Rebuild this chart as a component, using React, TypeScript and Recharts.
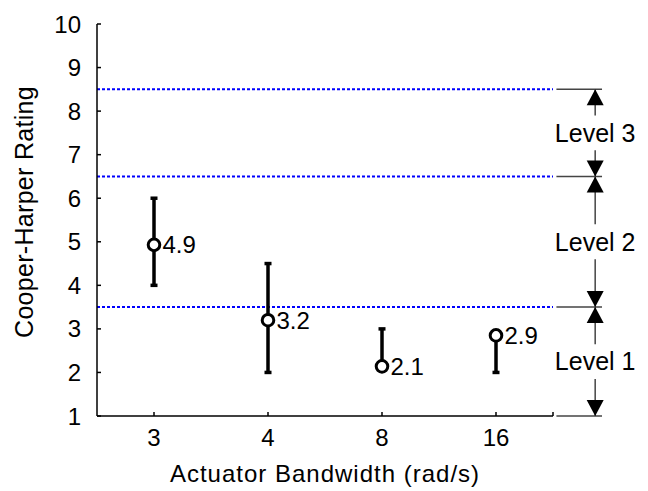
import React from "react";
import {
  ScatterChart, Scatter, XAxis, YAxis, ErrorBar, LabelList,
  ReferenceLine, ReferenceDot
} from "recharts";

// bandwidth categories (rad/s) and Cooper-Harper ratings
const categories = ["3", "4", "8", "16"];
const means = [4.93, 3.2, 2.14, 2.85];
const lows = [4, 2, 2.14, 2];
const highs = [6, 4.5, 3, 2.85];
const valueLabels = ["4.9", "3.2", "2.1", "2.9"];

const yTicks = [1, 2, 3, 4, 5, 6, 7, 8, 9, 10];

// handling quality level boundaries (top to bottom) and their names
const levelBounds = [8.5, 6.5, 3.5, 1];
const levelNames = ["Level 3", "Level 2", "Level 1"];

const FONT = "Liberation Sans, Arial, Helvetica, sans-serif";

// annotation column sits to the right of the plot, in x-axis units
const ANN_X = 4.37;
const ANN_START = 4.03;
const ANN_END = 4.43;
const TEXT_GAP = 0.4;

const rows = categories.map((c, i) => ({
  x: i + 0.5,
  y: means[i],
  err: [means[i] - lows[i], highs[i] - means[i]],
  label: valueLabels[i],
}));

const xTicks = categories.map((_, i) => i + 0.5).concat(categories.length);

const Marker = (props: any) => (
  <circle cx={props.cx} cy={props.cy} r={5.8} fill="#fff" stroke="#000" strokeWidth={3} />
);

const arrowShape = (dir: "up" | "down") => (props: any) => {
  const { cx, cy } = props;
  const h = dir === "up" ? 16 : -16;
  return (
    <polygon
      points={`${cx},${cy} ${cx - 8.5},${cy + h} ${cx + 8.5},${cy + h}`}
      fill="#000"
      stroke="none"
    />
  );
};

const textShape = (txt: string) => (props: any) => (
  <text
    x={props.cx}
    y={props.cy}
    dy="0.35em"
    textAnchor="middle"
    fontSize={25}
    fontFamily={FONT}
    fill="#000"
  >
    {txt}
  </text>
);

export default function App() {
  return (
    <div style={{ position: "absolute", left: 0, top: 0, width: 648, height: 491, background: "#fff" }}>
      <ScatterChart width={648} height={491} margin={{ top: 24, right: 95, bottom: 30, left: 17 }}>
        <XAxis
          type="number"
          dataKey="x"
          domain={[0, categories.length]}
          ticks={xTicks}
          interval={0}
          tickFormatter={(v: number) => (v < categories.length ? categories[Math.floor(v)] : "")}
          height={45}
          tickSize={-4}
          tickMargin={17}
          axisLine={{ stroke: "#000", strokeWidth: 1.5 }}
          tickLine={{ stroke: "#000", strokeWidth: 1.5 }}
          tick={{ fill: "#000", fontSize: 24, fontFamily: FONT }}
          label={{
            value: "Actuator Bandwidth (rad/s)",
            position: "bottom",
            offset: 4,
            fill: "#000",
            fontSize: 24,
            fontFamily: FONT,
            letterSpacing: 1,
          }}
        />
        <YAxis
          type="number"
          dataKey="y"
          domain={[1, 10]}
          ticks={yTicks}
          interval={0}
          width={80}
          tickSize={-4}
          tickMargin={20}
          axisLine={{ stroke: "#000", strokeWidth: 1.5 }}
          tickLine={{ stroke: "#000", strokeWidth: 1.5 }}
          tick={{ fill: "#000", fontSize: 24, fontFamily: FONT }}
          label={{
            value: "Cooper-Harper Rating",
            angle: -90,
            position: "center",
            dx: -33,
            dy: -8,
            fill: "#000",
            fontSize: 25,
            fontFamily: FONT,
            letterSpacing: 0.3,
          }}
        />

        {levelBounds.slice(0, 3).map((b) => (
          <ReferenceLine key={`blue-${b}`} y={b} stroke="#0000ff" strokeWidth={2} strokeDasharray="3 2" />
        ))}

        {levelBounds.map((b) => (
          <ReferenceLine
            key={`grey-${b}`}
            segment={[{ x: ANN_START, y: b }, { x: ANN_END, y: b }]}
            stroke="#444"
            strokeWidth={1.5}
            ifOverflow="visible"
          />
        ))}

        {levelNames.map((name, i) => {
          const top = levelBounds[i];
          const bottom = levelBounds[i + 1];
          const mid = (top + bottom) / 2;
          return (
            <React.Fragment key={name}>
              <ReferenceLine
                segment={[{ x: ANN_X, y: top }, { x: ANN_X, y: mid + TEXT_GAP }]}
                stroke="#444"
                strokeWidth={1.5}
                ifOverflow="visible"
              />
              <ReferenceLine
                segment={[{ x: ANN_X, y: mid - TEXT_GAP }, { x: ANN_X, y: bottom }]}
                stroke="#444"
                strokeWidth={1.5}
                ifOverflow="visible"
              />
              <ReferenceDot x={ANN_X} y={top} ifOverflow="visible" shape={arrowShape("up")} />
              <ReferenceDot x={ANN_X} y={bottom} ifOverflow="visible" shape={arrowShape("down")} />
              <ReferenceDot x={ANN_X} y={mid} ifOverflow="visible" shape={textShape(name)} />
            </React.Fragment>
          );
        })}

        <Scatter data={rows} shape={<Marker />} isAnimationActive={false}>
          <ErrorBar dataKey="err" direction="y" width={3.5} strokeWidth={3.5} stroke="#000" isAnimationActive={false} />
          <LabelList
            dataKey="label"
            position="right"
            offset={4}
            fill="#000"
            fontSize={24}
            fontFamily={FONT}
          />
        </Scatter>
      </ScatterChart>
    </div>
  );
}
